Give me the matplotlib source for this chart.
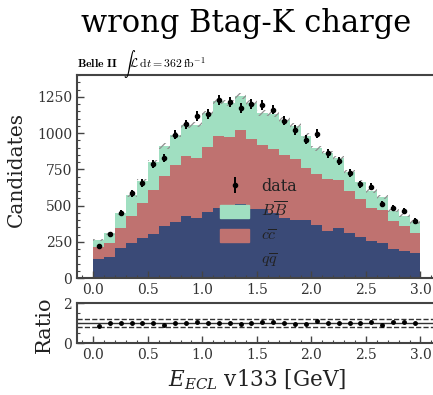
import numpy as np
import matplotlib
matplotlib.use("Agg")
import matplotlib.pyplot as plt
from matplotlib.patches import Patch
from matplotlib.ticker import MultipleLocator

# ---- data ----
bin_edges = np.round(np.arange(0.0, 3.0001, 0.1), 2)
qqbar = [133, 147, 204, 243, 278, 303, 358, 388, 428, 411, 452, 480, 495, 509, 478,
         473, 450, 415, 400, 399, 365, 326, 342, 310, 282, 252, 239, 202, 187, 172]
ccbar = [80, 96, 142, 187, 236, 302, 348, 392, 410, 417, 450, 497, 475, 513, 484,
         442, 442, 431, 424, 363, 351, 354, 332, 287, 260, 232, 229, 193, 173, 140]
bbbar = [49, 67, 104, 140, 154, 195, 204, 208, 218, 230, 233, 245, 240, 236, 246,
         225, 238, 244, 224, 220, 179, 180, 151, 133, 120, 114, 92, 70, 70, 73]
data = [222, 303, 450, 583, 656, 789, 828, 989, 1060, 1117, 1133, 1225, 1213, 1172, 1197,
        1193, 1162, 1085, 1021, 952, 996, 860, 805, 726, 646, 629, 509, 484, 461, 392]

title = "wrong Btag-K charge"
legend_labels = ["data", r"$B\overline{B}$", r"$c\overline{c}$", r"$q\overline{q}$"]
xlabel = r"$E_{ECL}$ v133 [GeV]"

c_qq = "#3a4a77"
c_cc = "#bf7270"
c_bb = "#a0dfc1"

plt.rcParams["font.family"] = ["DejaVu Serif"]
plt.rcParams["mathtext.fontset"] = "dejavuserif"
plt.rcParams["hatch.color"] = "#909090"
plt.rcParams["hatch.linewidth"] = 0.9

edges = bin_edges
centers = 0.5 * (edges[:-1] + edges[1:])
width = edges[1] - edges[0]
qq = np.array(qqbar, float)
cc = np.array(ccbar, float)
bb = np.array(bbbar, float)
dat = np.array(data, float)
total = qq + cc + bb
mc_err = 0.6 * np.sqrt(total)

fig = plt.figure(figsize=(4.33, 3.95), dpi=100)
ax = fig.add_axes([0.1778, 0.2962, 0.831, 0.5139])
rax = fig.add_axes([0.1778, 0.1316, 0.831, 0.1013])

ax.stairs(qq, edges, baseline=0, fill=True, color=c_qq, lw=0)
ax.stairs(qq + cc, edges, baseline=qq, fill=True, color=c_cc, lw=0)
ax.stairs(total, edges, baseline=qq + cc, fill=True, color=c_bb, lw=0)
ax.bar(centers, 2 * mc_err, bottom=total - mc_err, width=width, fill=False,
       hatch="////", edgecolor="#909090", linewidth=0)
eb = ax.errorbar(centers, dat, yerr=np.sqrt(dat), fmt="o", color="black",
                 ms=3.0, elinewidth=1.4, capsize=0)

handles = [eb, Patch(color=c_bb), Patch(color=c_cc), Patch(color=c_qq)]
leg = ax.legend(handles, legend_labels, loc="upper left",
                bbox_to_anchor=(0.375, 0.53), frameon=False, fontsize=11.5,
                handlelength=1.85, handleheight=0.9, labelspacing=0.42,
                borderpad=0, handletextpad=0.75)
for t in leg.get_texts():
    t.set_color("#222222")
    t.set_math_fontfamily("cm")

ratio = dat / total
rax.axhline(1.0, color="#333333", lw=1.0)
rax.axhline(0.8, color="#333333", lw=1.0, ls="--")
rax.axhline(1.2, color="#333333", lw=1.0, ls="--")
rax.errorbar(centers, ratio, yerr=np.sqrt(dat) / total, fmt="o", color="black",
             ms=2.5, elinewidth=1.0, capsize=0)

for a in (ax, rax):
    a.set_xlim(-0.15, 3.15)
    a.xaxis.set_major_locator(MultipleLocator(0.5))
    a.xaxis.set_minor_locator(MultipleLocator(0.1))
    a.tick_params(which="both", direction="in", colors="#444444",
                  labelcolor="#333333", labelsize=10, top=False, right=False)
    a.tick_params(which="major", length=5, width=1.0)
    a.tick_params(which="minor", length=2.5, width=0.8)
    for s in a.spines.values():
        s.set_color("#444444")
        s.set_linewidth(1.5)

ax.set_ylim(0, 1400)
ax.yaxis.set_major_locator(MultipleLocator(250))
ax.yaxis.set_minor_locator(MultipleLocator(50))
rax.set_ylim(0, 2)
rax.set_yticks([0, 2])
rax.yaxis.set_minor_locator(MultipleLocator(0.5))

fig.text(0.037, 0.57, "Candidates", rotation=90, ha="center", va="center",
         fontsize=14.5, color="#222222")
fig.text(0.102, 0.178, "Ratio", rotation=90, ha="center", va="center",
         fontsize=15, color="#222222")
fig.text(0.594, 0.037, xlabel, ha="center", va="center", fontsize=15.5,
         color="#222222")
fig.text(0.568, 0.919, title, ha="center", va="baseline", fontsize=22,
         color="black")
t = fig.text(0.178, 0.828,
             r"$\mathbf{Belle\ II}$  $\int\mathcal{L}\,\mathrm{d}t = 362\,\mathrm{fb}^{-1}$",
             ha="left", va="baseline", fontsize=8.5, color="black")
t.set_math_fontfamily("cm")

fig.savefig("out.png", dpi=100)
